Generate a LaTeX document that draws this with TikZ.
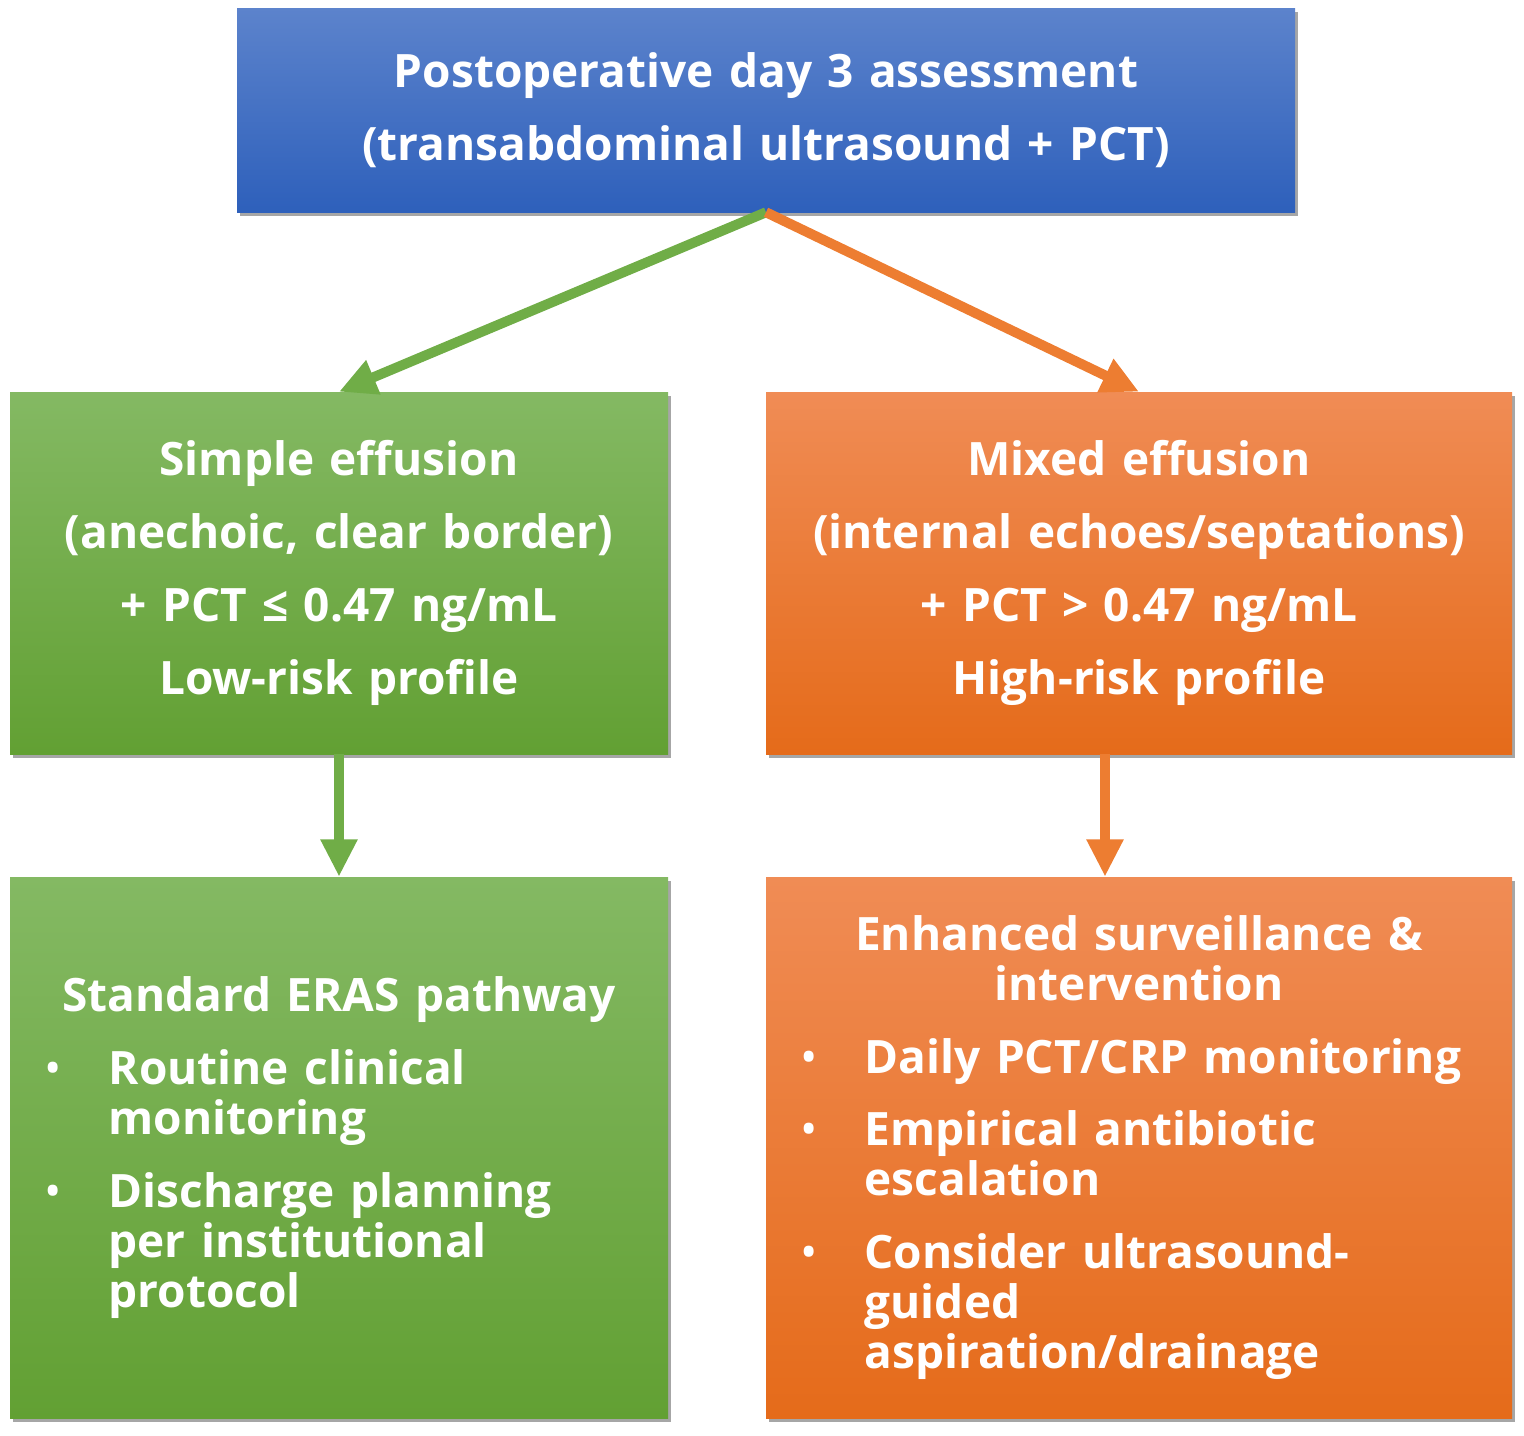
\documentclass[tikz,border=0pt]{standalone}
\usepackage{fontspec}
\setmainfont{Open Sans}
\usetikzlibrary{arrows.meta,positioning,shadows}

\definecolor{blueTop}{RGB}{92,131,204}
\definecolor{blueBot}{RGB}{46,96,187}
\definecolor{greenTop}{RGB}{132,185,99}
\definecolor{greenBot}{RGB}{98,160,51}
\definecolor{orangeTop}{RGB}{240,140,85}
\definecolor{orangeBot}{RGB}{229,107,26}
\definecolor{greenLine}{RGB}{112,173,71}
\definecolor{orangeLine}{RGB}{237,125,49}

% bullet line with hanging indent
\newcommand{\bpoint}[1]{\par\vspace{17pt}\hangindent=74pt\hangafter=1\noindent\hspace*{26pt}\makebox[48pt][l]{\fontseries{m}\selectfont\textbullet}#1\par}

\begin{document}
\begin{tikzpicture}[x=0.75pt,y=0.75pt,yscale=-1,xscale=1,
    box/.style={rectangle, inner sep=0pt, text=white,
        font=\bfseries\fontsize{34.5}{54.75}\selectfont,
        drop shadow={shadow xshift=2pt, shadow yshift=-3pt, fill=black, opacity=0.35}},
    bluebox/.style={box, top color=blueTop, bottom color=blueBot},
    greenbox/.style={box, top color=greenTop, bottom color=greenBot},
    orangebox/.style={box, top color=orangeTop, bottom color=orangeBot},
    listbox/.style={align=left, font=\bfseries\fontsize{34.5}{37.5}\selectfont},
    garrow/.style={draw=greenLine, fill=greenLine, line width=7.5pt, -{Triangle[length=28pt,width=26pt]}},
    oarrow/.style={draw=orangeLine, fill=orangeLine, line width=7.5pt, -{Triangle[length=28pt,width=26pt]}}]

    \useasboundingbox (0,0) rectangle (1524,1435);

    \node[bluebox, text width=793.5pt, minimum height=153pt, align=center] (assess) at (766,110)
        {Postoperative day 3 assessment\\(transabdominal ultrasound + PCT)};

    \node[greenbox, text width=493.5pt, minimum height=271.5pt, align=center] (simple) at (339,573)
        {Simple effusion\\(anechoic, clear border)\\+ PCT ≤ 0.47 ng/mL\\Low-risk profile};
    \node[orangebox, text width=559.5pt, minimum height=271.5pt, align=center] (mixed) at (1139,573)
        {Mixed effusion\\(internal echoes/septations)\\+ PCT > 0.47 ng/mL\\High-risk profile};

    \node[greenbox, listbox, text width=493.5pt, minimum height=405.75pt] (routine) at (339,1147.5)
        {{\centering Standard ERAS pathway\par}
         \bpoint{Routine clinical\newline monitoring}
         \bpoint{Discharge planning\newline per institutional\newline protocol}};
    \node[orangebox, listbox, text width=559.5pt, minimum height=405.75pt] (care) at (1139,1147.5)
        {{\centering Enhanced surveillance \&\\intervention\par}
         \bpoint{Daily PCT/CRP monitoring}
         \bpoint{Empirical antibiotic\newline escalation}
         \bpoint{Consider ultrasound-\newline guided\newline aspiration/drainage}};

    \draw[garrow] (assess.south) -- (simple.north);
    \draw[oarrow] (assess.south) -- (mixed.north);
    \draw[garrow] (simple.south) -- (routine.north);
    \draw[oarrow] ([xshift=-25.5pt]mixed.south) -- ([xshift=-25.5pt]care.north);
\end{tikzpicture}
\end{document}
